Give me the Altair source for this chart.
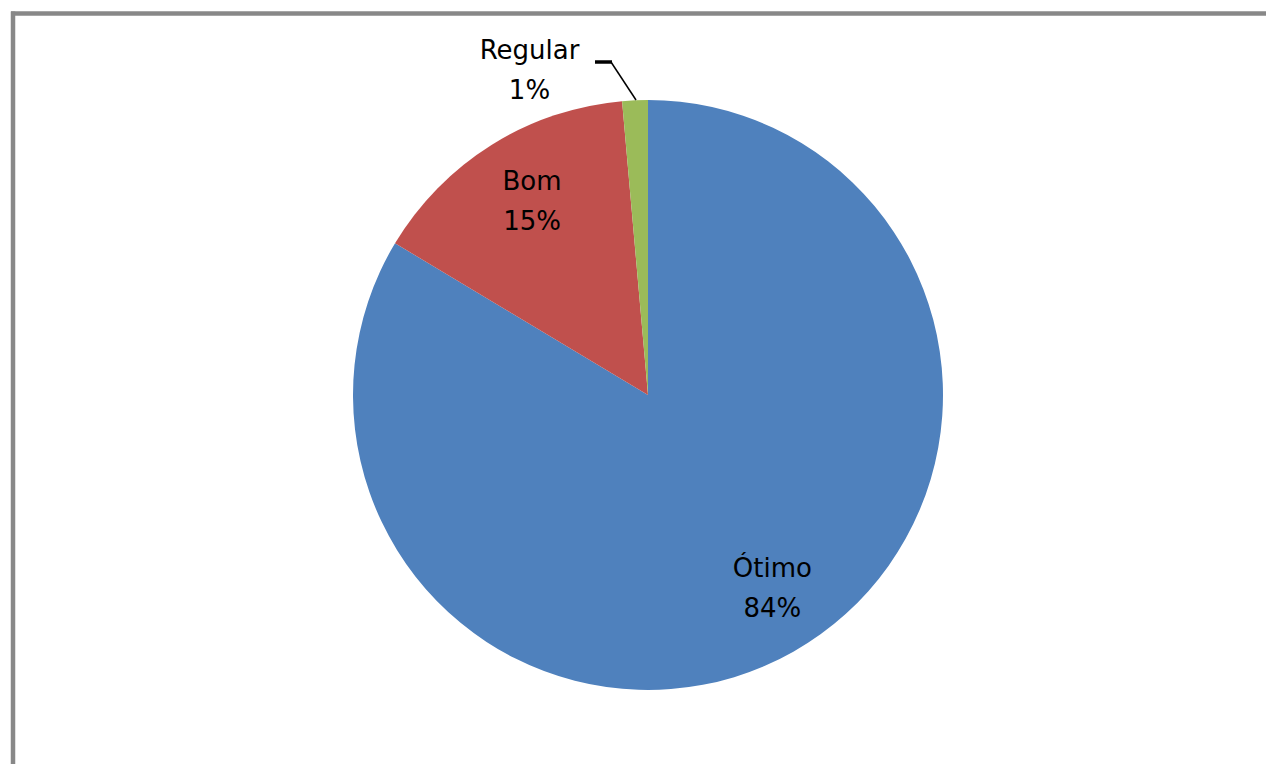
import altair as alt
import pandas as pd

categories = ["Ótimo", "Bom", "Regular"]
values = [83.6, 15.0, 1.4]
pct_labels = ["84%", "15%", "1%"]
colors = ["#4F81BD", "#C0504D", "#9BBB59"]


def label_for(name):
    return [f"{c}\n{p}" if c == name else "" for c, p in zip(categories, pct_labels)]


df = pd.DataFrame({
    "cat": categories,
    "val": values,
    "order": list(range(len(categories))),
    "lab_otimo": label_for("Ótimo"),
    "lab_bom": label_for("Bom"),
    "lab_regular": label_for("Regular"),
})

W, H = 1258, 756
CX, CY = 640, 387
R = 295
FONT = "DejaVu Sans"
FS = 26

base = alt.Chart(df).encode(
    theta=alt.Theta("val:Q", stack=True),
    order=alt.Order("order:Q"),
)

pie = base.mark_arc(radius=R).encode(
    x=alt.value(CX), y=alt.value(CY),
    color=alt.Color("cat:N", scale=alt.Scale(domain=categories, range=colors), legend=None),
)


def text_layer(field, radius, dx, dy):
    return base.mark_text(radius=radius, font=FONT, fontSize=FS, lineBreak="\n", lineHeight=40,
                          color="black", baseline="middle", align="center", dx=dx, dy=dy).encode(
        x=alt.value(CX), y=alt.value(CY), text=f"{field}:N"
    )


t_otimo = text_layer("lab_otimo", 228, 12, -24)
t_bom = text_layer("lab_bom", 228, 5, -20)
t_reg = text_layer("lab_regular", 330, -104, -14)

line_df = pd.DataFrame({"k": [0]})
lead_h = alt.Chart(line_df).mark_rule(color="black", strokeWidth=3.5).encode(
    x=alt.value(587), x2=alt.value(604), y=alt.value(54), y2=alt.value(54)
)
lead_d = alt.Chart(line_df).mark_rule(color="black", strokeWidth=1.5).encode(
    x=alt.value(603), x2=alt.value(628), y=alt.value(54), y2=alt.value(92)
)

frame_l = alt.Chart(line_df).mark_rule(color="#888888", strokeWidth=4.5).encode(
    x=alt.value(5), x2=alt.value(5), y=alt.value(3.5), y2=alt.value(H)
)
frame_t = alt.Chart(line_df).mark_rule(color="#888888", strokeWidth=4.5).encode(
    x=alt.value(3), x2=alt.value(W), y=alt.value(5.5), y2=alt.value(5.5)
)

chart = alt.layer(frame_l, frame_t, pie, t_otimo, t_bom, t_reg, lead_h, lead_d).properties(
    width=W, height=H, autosize=alt.AutoSizeParams(type="none"), padding=0,
    background="white",
).configure_view(stroke=None)

chart.save("out.html", embed_options={"renderer": "svg", "actions": False})
